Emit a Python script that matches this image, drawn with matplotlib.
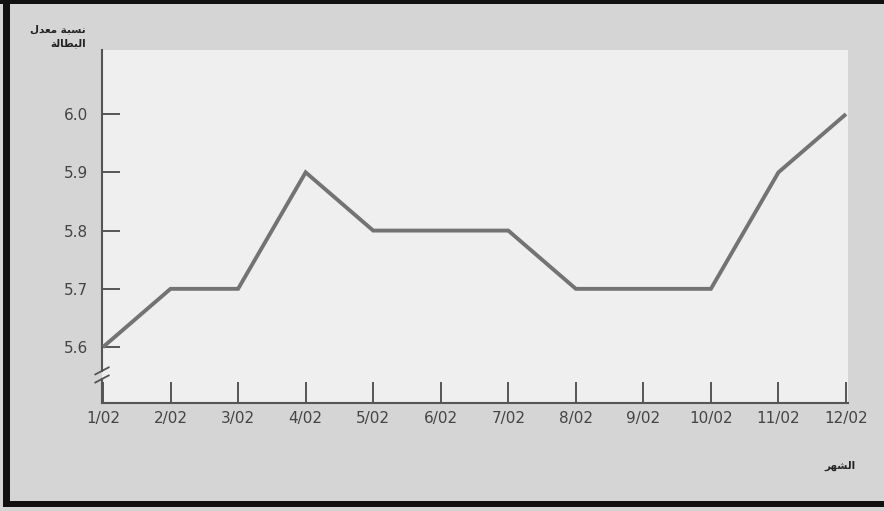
import matplotlib
matplotlib.use("Agg")
import matplotlib.pyplot as plt
from matplotlib.patches import Rectangle

# Monthly unemployment rate, Jan-Dec 2002
months = ["1/02", "2/02", "3/02", "4/02", "5/02", "6/02",
          "7/02", "8/02", "9/02", "10/02", "11/02", "12/02"]
rate = [5.6, 5.7, 5.7, 5.9, 5.8, 5.8, 5.8, 5.7, 5.7, 5.7, 5.9, 6.0]
y_ticks = [5.6, 5.7, 5.8, 5.9, 6.0]

# Arabic labels written in presentation forms, visual (left-to-right) order,
# since matplotlib does no shaping or bidi on its own
y_title = "\uFEDD\uFEAA\uFECC\uFEE3 \uFE94\uFE92\uFEB4\uFEE7\n\uFE94\uFEDF\uFE8E\uFEC4\uFE92\uFEDF\uFE8D"  # نسبة معدل البطالة
x_title = "\uFEAE\uFEEC\uFEB8\uFEDF\uFE8D"  # الشهر

W, H = 884, 511
fig = plt.figure(figsize=(W / 100, H / 100), dpi=100)
fig.patch.set_facecolor("#d5d5d5")

# black frame: top, left and bottom edges only
def px_rect(x0, y0, x1, y1):
    fig.patches.append(Rectangle((x0 / W, 1 - y1 / H), (x1 - x0) / W, (y1 - y0) / H,
                                 transform=fig.transFigure, facecolor="#111111",
                                 edgecolor="none", zorder=10))

px_rect(0, 0, W, 4)
px_rect(3, 0, 10, 507)
px_rect(3, 501, W, 507)

ax = fig.add_axes([102 / W, 1 - 403 / H, 746 / W, 353 / H])
ax.set_facecolor("#efefef")

x = list(range(len(months)))
ax.plot(x, rate, color="#737373", linewidth=2.8, solid_joinstyle="miter",
        solid_capstyle="butt", clip_on=False, zorder=3)

ax.set_xlim(-1 / 67.55, 11 + 2 / 67.55)
ax.set_ylim(5.504, 6.11)

ax.set_xticks(x)
ax.set_xticklabels(months)
ax.set_yticks(y_ticks)
ax.set_yticklabels([f"{v:.1f}" for v in y_ticks])

ax.tick_params(axis="x", direction="in", length=15, width=1.4,
               color="#555555", labelcolor="#444444", labelsize=11, pad=6)
ax.tick_params(axis="y", direction="in", length=13, width=1.4,
               color="#555555", labelcolor="#444444", labelsize=11, pad=10)

for side in ["top", "right", "left"]:
    ax.spines[side].set_visible(False)
ax.spines["bottom"].set_color("#555555")
ax.spines["bottom"].set_linewidth(1.5)

# left axis drawn by hand with a break near the bottom
lo, hi = 0.068, 0.091
ax.plot([0, 0], [0, lo], transform=ax.transAxes, color="#555555",
        linewidth=1.5, clip_on=False)
ax.plot([0, 0], [hi, 1], transform=ax.transAxes, color="#555555",
        linewidth=1.5, clip_on=False)
for yb in (lo, hi):
    ax.plot([-0.009, 0.009], [yb - 0.01, yb + 0.01], transform=ax.transAxes,
            color="#555555", linewidth=1.3, clip_on=False)

fig.text(86 / W, 1 - 36 / H, y_title, ha="right", va="center",
         fontsize=7.5, fontweight="bold", color="#222222",
         family="DejaVu Sans", linespacing=1.5)
fig.text(840 / W, 1 - 466 / H, x_title, ha="center", va="center",
         fontsize=7.5, fontweight="bold", color="#222222", family="DejaVu Sans")

fig.savefig("out.png", dpi=100, facecolor=fig.get_facecolor())
